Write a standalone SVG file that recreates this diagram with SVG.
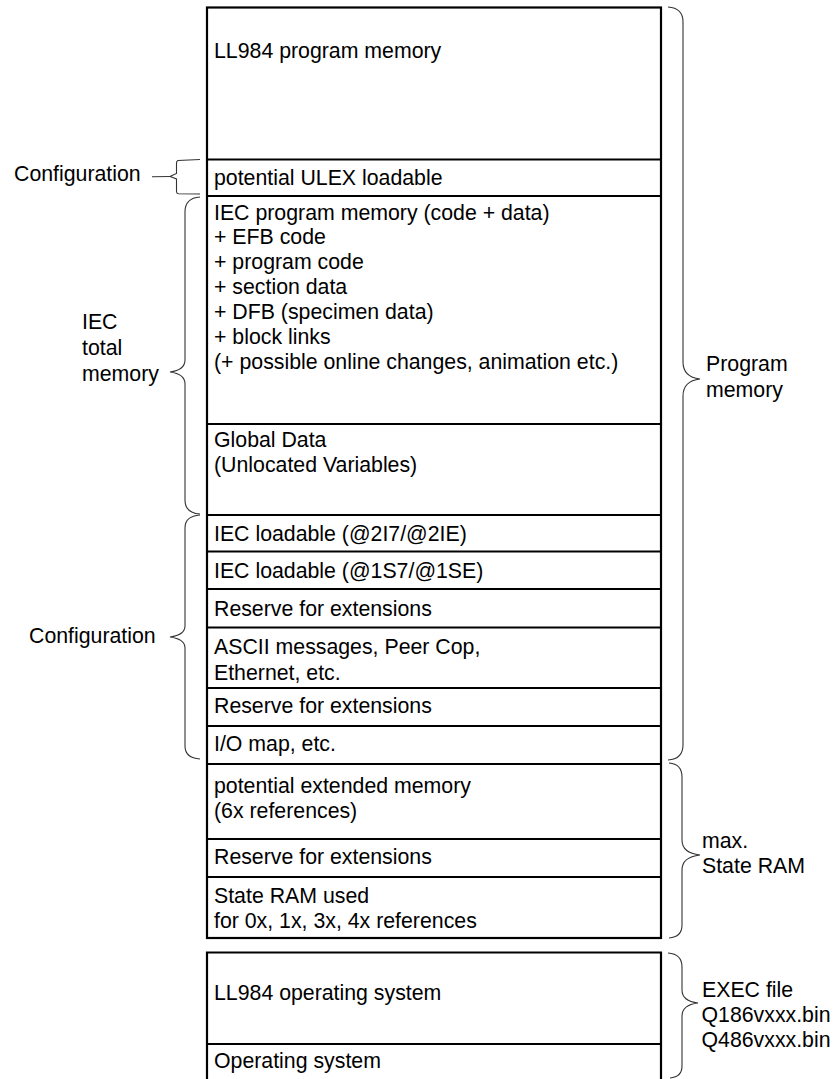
<svg xmlns="http://www.w3.org/2000/svg" width="839" height="1079" viewBox="0 0 839 1079">
<style>
text{font-family:"Liberation Sans",Arial,sans-serif;font-size:21.3px;fill:#000}
.box{fill:#fff;stroke:#000;stroke-width:2.2}
.sep{stroke:#000;stroke-width:2.2;fill:none}
.br{fill:none;stroke:#333;stroke-width:1.1}
</style>
<rect width="839" height="1079" fill="#fff"/>
<g id="main-memory">
<rect class="box" x="207" y="7.5" width="454" height="930.5"/>
<g id="ll984-program-memory"><text x="214" y="58">LL984 program memory</text></g>
<line class="sep" x1="207" y1="159.5" x2="661" y2="159.5"/>
<g id="ulex"><text x="214" y="184.5">potential ULEX loadable</text></g>
<line class="sep" x1="207" y1="196" x2="661" y2="196"/>
<g id="iec-program-memory">
<text x="214" y="219.5">IEC program memory (code + data)</text>
<text x="214" y="244.4">+ EFB code</text>
<text x="214" y="269.3">+ program code</text>
<text x="214" y="294.2">+ section data</text>
<text x="214" y="319.1">+ DFB (specimen data)</text>
<text x="214" y="344">+ block links</text>
<text x="214" y="368.9">(+ possible online changes, animation etc.)</text>
</g>
<line class="sep" x1="207" y1="424" x2="661" y2="424"/>
<g id="global-data">
<text x="214" y="446.7">Global Data</text>
<text x="214" y="471.7">(Unlocated Variables)</text>
</g>
<line class="sep" x1="207" y1="515" x2="661" y2="515"/>
<g id="iec-loadable-2"><text x="214" y="540.7">IEC loadable (@2I7/@2IE)</text></g>
<line class="sep" x1="207" y1="551.5" x2="661" y2="551.5"/>
<g id="iec-loadable-1"><text x="214" y="578.3">IEC loadable (@1S7/@1SE)</text></g>
<line class="sep" x1="207" y1="589" x2="661" y2="589"/>
<g id="reserve-1"><text x="214" y="616">Reserve for extensions</text></g>
<line class="sep" x1="207" y1="627.5" x2="661" y2="627.5"/>
<g id="ascii">
<text x="214" y="654">ASCII messages, Peer Cop,</text>
<text x="214" y="680">Ethernet, etc.</text>
</g>
<line class="sep" x1="207" y1="688" x2="661" y2="688"/>
<g id="reserve-2"><text x="214" y="713.3">Reserve for extensions</text></g>
<line class="sep" x1="207" y1="726" x2="661" y2="726"/>
<g id="io-map"><text x="214" y="751">I/O map, etc.</text></g>
<line class="sep" x1="207" y1="764" x2="661" y2="764"/>
<g id="extended-memory">
<text x="214" y="793.3">potential extended memory</text>
<text x="214" y="818.3">(6x references)</text>
</g>
<line class="sep" x1="207" y1="839" x2="661" y2="839"/>
<g id="reserve-3"><text x="214" y="864">Reserve for extensions</text></g>
<line class="sep" x1="207" y1="877" x2="661" y2="877"/>
<g id="state-ram">
<text x="214" y="902.7">State RAM used</text>
<text x="214" y="928.3">for 0x, 1x, 3x, 4x references</text>
</g>
</g>
<g id="os-memory">
<path class="sep" d="M207,1080 L207,952.5 L661,952.5 L661,1080"/>
<g id="ll984-os"><text x="214" y="1000">LL984 operating system</text></g>
<line class="sep" x1="207" y1="1044" x2="661" y2="1044"/>
<g id="os"><text x="214" y="1068.3">Operating system</text></g>
</g>
<g id="connectors">
<path class="br" d="M200,159.5 L178,160.5 Q176.5,161 176.5,163 L176.5,173.5 L170,176.5 L176.5,179 L176.5,191.5 Q176.5,193.5 178.5,193.7 L200,194"/>
<path class="br" d="M152,176.8 L170,176.5"/>
<path class="br" d="M200,197 Q185,198 185,212 L185,360 Q185,370 170,372 Q185,374 185,384 L185,500 Q185,513 200,514"/>
<path class="br" d="M200,515 Q185,516 185,528 L185,626 Q185,635 170,637 Q185,639 185,648 L185,746 Q185,758 200,759"/>
<path class="br" d="M668,7 Q683,8 683,22 L683,362 Q683,377 700,379 Q683,381 683,396 L683,745 Q683,759 668,760"/>
<path class="br" d="M669,763 Q682,764 682,777 L682,840 Q682,853 700,855 Q682,857 682,870 L682,925 Q682,937 669,938"/>
<path class="br" d="M668,953 Q682,954 682,967 L682,990 Q682,1001 698,1003 Q682,1005 682,1016 L682,1066 Q682,1077 670,1078"/>
</g>
<g id="labels">
<g id="label-config-top"><text x="14" y="180.5">Configuration</text></g>
<g id="label-iec-total">
<text x="82" y="329">IEC</text>
<text x="82" y="355">total</text>
<text x="82" y="381">memory</text>
</g>
<g id="label-config"><text x="29" y="643.3">Configuration</text></g>
<g id="label-program-memory">
<text x="706" y="370.7">Program</text>
<text x="706" y="396.5">memory</text>
</g>
<g id="label-state-ram">
<text x="702" y="848">max.</text>
<text x="702" y="873">State RAM</text>
</g>
<g id="label-exec">
<text x="702" y="996.7">EXEC file</text>
<text x="701.5" y="1021.7">Q186vxxx.bin</text>
<text x="701.5" y="1046.7">Q486vxxx.bin</text>
</g>
</g>
</svg>
